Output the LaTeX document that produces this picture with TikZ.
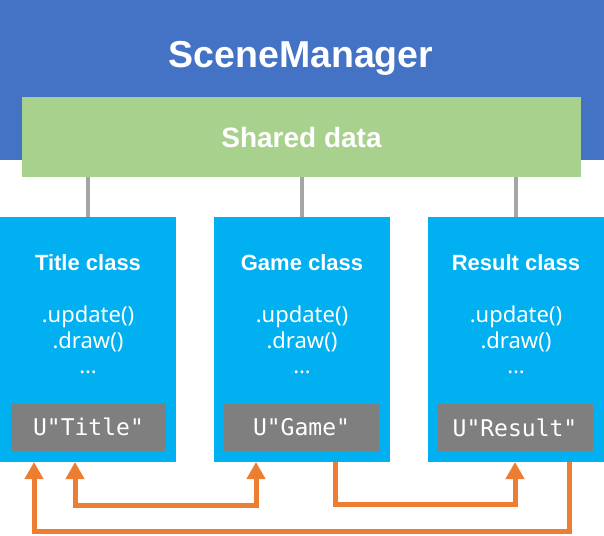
\documentclass[tikz,border=0pt]{standalone}
\usepackage{fontspec}
\setmainfont{Noto Sans}
\setmonofont{DejaVu Sans Mono}
\newfontfamily\headfont{Liberation Sans}
\usetikzlibrary{arrows.meta}
\definecolor{mgrblue}{HTML}{4472C4}
\definecolor{sharedgreen}{HTML}{A9D18E}
\definecolor{classcyan}{HTML}{00B0F0}
\definecolor{labelgray}{HTML}{7F7F7F}
\definecolor{conngray}{HTML}{A5A5A5}
\definecolor{arroworange}{HTML}{ED7D31}
\tikzset{
  box/.style={rectangle, inner sep=0pt, outer sep=0pt},
  classbox/.style={box, fill=classcyan, minimum width=176pt, minimum height=245pt},
  labelbox/.style={box, fill=labelgray, minimum width=155pt, minimum height=47pt,
    text=white, font=\ttfamily\fontsize{23}{26}\selectfont},
  headtext/.style={text=white, inner sep=0pt},
  classtitle/.style={headtext, font=\headfont\bfseries\fontsize{22}{24}\selectfont},
  methods/.style={text=white, inner sep=0pt, align=center, font=\fontsize{22}{25.5}\selectfont},
  conn/.style={draw=conngray, line width=4pt},
  oarrow/.style={draw=arroworange, line width=5pt,
    -{Triangle[width=18pt,length=17pt]}},
  darrow/.style={draw=arroworange, line width=5pt,
    {Triangle[width=18pt,length=17pt]}-{Triangle[width=18pt,length=17pt]}},
}
\begin{document}
\begin{tikzpicture}[x=1pt,y=-1pt]
\useasboundingbox (0,0) rectangle (604,535);
% manager band
\node[box, fill=mgrblue, minimum width=604pt, minimum height=160pt] (mgr) at (302,80) {};
\node[headtext, font=\headfont\bfseries\fontsize{37.5}{40}\selectfont] (mgrlabel) at (301,58) {SceneManager};
% shared data
\node[box, fill=sharedgreen, minimum width=559pt, minimum height=80pt] (shared) at (301.5,137) {};
\node[headtext, font=\headfont\bfseries\fontsize{28}{30}\selectfont] (sharedlabel) at (301.5,137) {Shared data};
% class boxes
\node[classbox] (title) at (88,339.5) {};
\node[classbox] (game) at (302,339.5) {};
\node[classbox] (result) at (516,339.5) {};
% connectors to shared data
\draw[conn] (title.north) -- (title.north |- shared.south);
\draw[conn] (game.north) -- (game.north |- shared.south);
\draw[conn] (result.north) -- (result.north |- shared.south);
% class texts
\node[classtitle] (titlename) at (88,263) {Title class};
\node[classtitle] (gamename) at (302,263) {Game class};
\node[classtitle] (resultname) at (516,263) {Result class};
\node[methods] (titlemeth) at (88,340) {.update()\\.draw()\\…};
\node[methods] (gamemeth) at (302,340) {.update()\\.draw()\\…};
\node[methods] (resultmeth) at (516,340) {.update()\\.draw()\\…};
% scene name labels
\node[labelbox] (titlekey) at (88.5,427) {U"Title"};
\node[labelbox] (gamekey) at (301.5,427.5) {U"Game"};
\node[labelbox] (resultkey) at (515,427.5) {U"Result"};
% transitions
\draw[oarrow] ([xshift=53pt]result.south) -- ++(0,69) -| ([xshift=-54pt]title.south);
\draw[oarrow] ([xshift=33pt]game.south) -- ++(0,42) -| ([xshift=-1pt]result.south);
\draw[darrow] ([xshift=-13pt]title.south) -- ++(0,43) -| ([xshift=-46pt]game.south);
\end{tikzpicture}
\end{document}
